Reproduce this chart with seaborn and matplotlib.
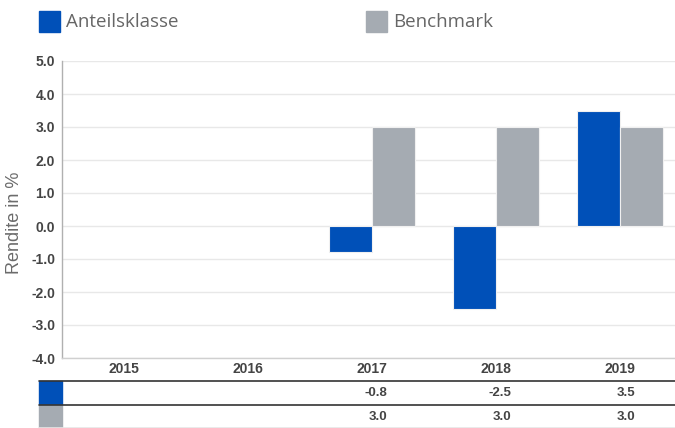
import numpy as np
import pandas as pd
import matplotlib
matplotlib.use('Agg')
import matplotlib.pyplot as plt
import matplotlib.transforms as mtransforms
from matplotlib.patches import Rectangle
import seaborn as sns

# Data
years = ["2015", "2016", "2017", "2018", "2019"]
anteil = [np.nan, np.nan, -0.8, -2.5, 3.5]
bench = [np.nan, np.nan, 3.0, 3.0, 3.0]
series_names = ["Anteilsklasse", "Benchmark"]
colors = ["#0050B8", "#A5ABB2"]

df = pd.DataFrame({
    "Jahr": years * 2,
    "Wert": anteil + bench,
    "Serie": [series_names[0]] * len(years) + [series_names[1]] * len(years),
})

sns.set_style("white")
plt.rcParams['font.family'] = ['Liberation Sans', 'DejaVu Sans']

W, H = 675, 428


def fx(px):
    return px / W


def fy(py):
    return 1 - py / H


fig = plt.figure(figsize=(W / 100, H / 100), dpi=100)
# plot area runs past the right edge (the reference is cropped there)
ax = fig.add_axes([fx(62), fy(358), (682 - 62) / W, (358 - 61) / H])

sns.barplot(data=df, x="Jahr", y="Wert", hue="Serie", palette=colors,
            width=0.7, gap=0, ax=ax, legend=False, saturation=1,
            edgecolor='#f0f0f0', linewidth=0.8)

ax.set_ylim(-4, 5)
ticks = np.arange(-4, 6, 1)
ax.set_yticks(ticks)
ax.set_yticklabels([f"{v:.1f}" for v in ticks],
                   fontsize=10, fontweight='bold', color='#444444')
ax.set_xlim(-0.5, len(years) - 0.5)
ax.set_xticks([])
ax.set_xlabel("")
ax.set_ylabel("Rendite in %", fontsize=13, color='#6b6b6b')
ax.yaxis.set_label_coords((23 - 62) / 620, (358 - 223) / 297)
ax.tick_params(axis='y', length=0, pad=5)
ax.grid(axis='y', color='#e8e8e8', linewidth=1)
ax.set_axisbelow(True)
for s in ['top', 'right']:
    ax.spines[s].set_visible(False)
ax.spines['left'].set_color('#b0b0b0')
ax.spines['bottom'].set_color('#d0d0d0')
for s in ['left', 'bottom']:
    ax.spines[s].set_linewidth(1)

# Legend on top
for i, name in enumerate(series_names):
    x0 = [39, 366][i]
    fig.patches.append(Rectangle((fx(x0), fy(32)), 21 / W, 21 / H,
                                 transform=fig.transFigure, color=colors[i]))
    fig.text(fx(x0 + 27), fy(22), name, fontsize=13.5, color='#666666',
             va='center', ha='left', family=['Open Sans', 'DejaVu Sans'])

# Table below the chart
trans = mtransforms.blended_transform_factory(ax.transData, fig.transFigure)
for i, yr in enumerate(years):
    fig.text(i, fy(369), yr, transform=trans, ha='center', va='center',
             fontsize=10, fontweight='bold', color='#444444')

rows = [anteil, bench]
row_y = [(381, 404), (405, 428)]
for r, vals in enumerate(rows):
    top, bot = row_y[r]
    fig.patches.append(Rectangle((fx(39), fy(bot)), 23 / W, (bot - top) / H,
                                 transform=fig.transFigure, color=colors[r]))
    for i, v in enumerate(vals):
        if not np.isnan(v):
            fig.text(i + 0.125, fy((top + bot) / 2), f"{v:.1f}", transform=trans,
                     ha='right', va='center', fontsize=9.5,
                     fontweight='bold', color='#444444')

for yl, c in [(381, '#333333'), (404.5, '#333333'), (427.5, '#e6e6e6')]:
    fig.add_artist(plt.Line2D([fx(39), 1], [fy(yl), fy(yl)],
                              transform=fig.transFigure, color=c, linewidth=1.2))

fig.savefig("out.png", dpi=100)
